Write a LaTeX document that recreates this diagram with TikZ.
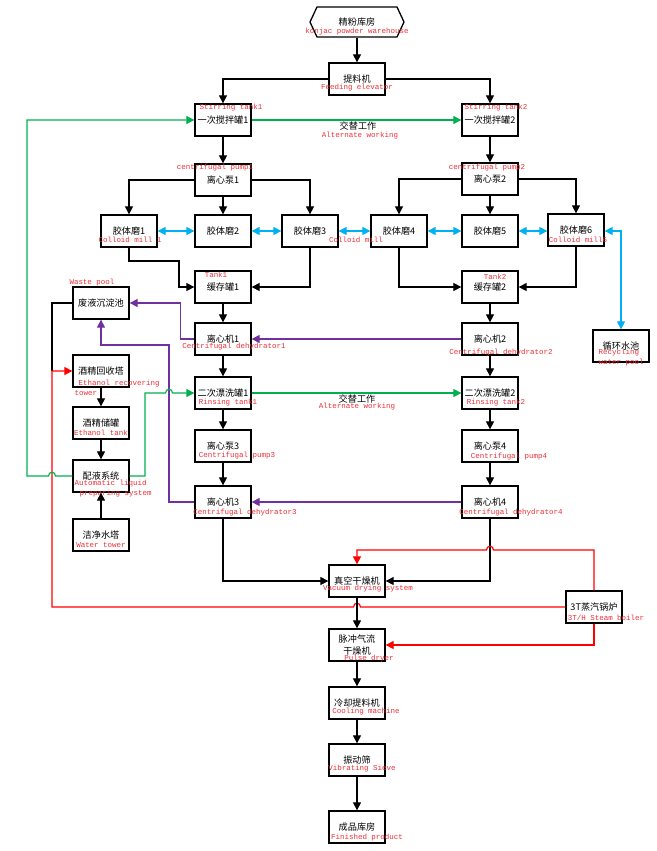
\documentclass[tikz,border=0pt]{standalone}
\usepackage{fontspec}
\setmainfont{Noto Sans CJK SC}
\newfontfamily\enfont{Liberation Mono}
\usetikzlibrary{arrows.meta,shapes.symbols}
\definecolor{flowgreen}{RGB}{0,176,80}
\definecolor{flowblue}{RGB}{0,176,240}
\definecolor{flowpurple}{RGB}{112,48,160}
\definecolor{flowred}{RGB}{255,0,0}
\definecolor{labred}{RGB}{238,45,55}

\begin{document}
\begin{tikzpicture}[x=0.3mm,y=-0.3mm,>={Triangle[length=2.4mm,width=2.4mm]},line width=0.9pt,
  box/.style={draw,line width=1.1pt,minimum width=16.8mm,minimum height=9.6mm,inner sep=1pt,
    font=\fontsize{7.8}{9.6}\selectfont,align=center},
  cn/.style={font=\fontsize{7.8}{9.6}\selectfont,inner sep=0pt},
  en/.style={text=labred,font=\enfont\fontsize{6.4}{8.6}\selectfont,inner sep=0pt},
  gline/.style={draw=flowgreen,line width=1pt},
  bline/.style={draw=flowblue,line width=1pt},
  pline/.style={draw=flowpurple,line width=1pt},
  rline/.style={draw=flowred,line width=1pt}]
\useasboundingbox (0,0) rectangle (657,851);

\node[draw,line width=1.1pt,signal,signal to=west and east,signal pointer angle=130,
  minimum width=28.2mm,minimum height=9mm,inner sep=0pt,font=\fontsize{7.8}{9.6}\selectfont] (store) at (357,22) {精粉库房};
\node[box] (elev) at (357,79) {提料机};
\node[box] (st1) at (223,120) {一次搅拌罐1};
\node[box] (st2) at (490,120) {一次搅拌罐2};
\node[box] (pump1) at (223,180) {离心泵1};
\node[box] (pump2) at (490,179) {离心泵2};
\node[box] (mill1) at (129,231) {胶体磨1};
\node[box] (mill2) at (223,231) {胶体磨2};
\node[box] (mill3) at (310,231) {胶体磨3};
\node[box] (mill4) at (399,231) {胶体磨4};
\node[box] (mill5) at (490,231) {胶体磨5};
\node[box] (mill6) at (576,230) {胶体磨6};
\node[box] (tank1) at (223,287) {缓存罐1};
\node[box] (tank2) at (490,287) {缓存罐2};
\node[box] (waste) at (101,303) {废液沉淀池};
\node[box] (cen1) at (223,339) {离心机1};
\node[box] (cen2) at (490,339) {离心机2};
\node[box] (pool) at (621,346) {循环水池};
\node[box] (ethrec) at (101,371) {酒精回收塔};
\node[box] (rin1) at (223,393) {二次漂洗罐1};
\node[box] (rin2) at (490,393) {二次漂洗罐2};
\node[box] (ethtank) at (101,423) {酒精储罐};
\node[box] (pump3) at (223,446) {离心泵3};
\node[box] (pump4) at (490,446) {离心泵4};
\node[box] (mix) at (101,476) {配液系统};
\node[box] (cen3) at (223,502) {离心机3};
\node[box] (cen4) at (490,502) {离心机4};
\node[box] (water) at (101,535) {洁净水塔};
\node[box] (vac) at (357,581) {真空干燥机};
\node[box] (boiler) at (594,607) {3T蒸汽锅炉};
\node[box] (pulse) at (357,645) {脉冲气流\\干燥机};
\node[box] (cool) at (357,703) {冷却提料机};
\node[box] (sieve) at (357,760) {振动筛};
\node[box] (prod) at (357,827) {成品库房};
\coordinate (redjoin) at (52,371);

\node[cn] (alt1) at (358,126) {交替工作};
\node[cn] (alt2) at (357,399) {交替工作};

\node[en] (storeen) at (357,32) {konjac powder warehouse};
\node[en] (elev-en) at (357,88) {Feeding elevator};
\node[en] (st1en) at (231,108) {Stirring tank1};
\node[en] (st2en) at (496,108) {Stirring tank2};
\node[en] (alt1en) at (360,136) {Alternate working};
\node[en] (pump1en) at (215,168) {centrifugal pump1};
\node[en] (pump2en) at (487,168) {centrifugal pump2};
\node[en] (mill1en) at (130,240) {Colloid mill 1};
\node[en] (mill3en) at (356,240) {Colloid mill};
\node[en] (mill6en) at (578,240) {Colloid mill6};
\node[en] (tank1en) at (216,275) {Tank1};
\node[en] (tank2en) at (495,277) {Tank2};
\node[en] (wasteen) at (92,283) {Waste pool};
\node[en] (cen1en) at (234,347) {Centrifugal dehydrator1};
\node[en] (cen2en) at (501,353) {Centrifugal dehydrator2};
\node[en,anchor=west,align=left] (poolen) at (598,358) {Recycling\\water pool};
\node[en,anchor=west,align=left] (ethrecen) at (74,388) {\hspace*{1.2mm}Ethanol recovering\\tower};
\node[en] (rin1en) at (228,403) {Rinsing tank1};
\node[en] (rin2en) at (496,403) {Rinsing tank2};
\node[en] (alt2en) at (357,407) {Alternate working};
\node[en] (ethtanken) at (101,433) {Ethanol tank};
\node[en] (pump3en) at (237,456) {Centrifugal pump3};
\node[en] (pump4en) at (509,457) {Centrifugal pump4};
\node[en,anchor=west,align=left] (mixen) at (74,489) {Automatic liquid\\\hspace*{1.5mm}preparing system};
\node[en] (cen3en) at (245,513) {Centrifugal dehydrator3};
\node[en] (cen4en) at (511,513) {Centrifugal dehydrator4};
\node[en] (wateren) at (101,545) {Water tower};
\node[en] (vacen) at (368,589) {Vacuum drying system};
\node[en] (boileren) at (606,618) {3T/H Steam boiler};
\node[en] (pulseen) at (369,659) {Pulse dryer};
\node[en] (coolen) at (366,712) {Cooling machine};
\node[en] (sieveen) at (362,769) {Vibrating Sieve};
\node[en] (proden) at (367,838) {Finished product};

\draw[->] (store.south) -- (elev.north);
\draw[->] (elev.west) -| (st1.north);
\draw[->] (elev.east) -| (st2.north);
\draw[gline,->] (st1.east) -- (st2.west);
\draw[->] (st1.south) -- (pump1.north);
\draw[->] (st2.south) -- (pump2.north);
\draw[->] (pump1.west) -| (mill1.north);
\draw[->] (pump1.south) -- (mill2.north);
\draw[->] (pump1.east) -| (mill3.north);
\draw[->] (pump2.west) -| (mill4.north);
\draw[->] (pump2.south) -- (mill5.north);
\draw[->] (pump2.east) -| (mill6.north);
\draw[bline,<->] (mill1.east) -- (mill2.west);
\draw[bline,<->] (mill2.east) -- (mill3.west);
\draw[bline,<->] (mill3.east) -- (mill4.west);
\draw[bline,<->] (mill4.east) -- (mill5.west);
\draw[bline,<->] (mill5.east) -- (mill5.east -| mill6.west);
\draw[bline,<->] (mill6.east |- mill5.east) -| (pool.north);
\draw[->] (mill1.south) |- (179,261) |- (tank1.west);
\draw[->] (mill3.south) |- (tank1.east);
\draw[->] (mill4.south) |- (tank2.west);
\draw[->] (mill6.south) |- (tank2.east);
\draw[->] (tank1.south) -- (cen1.north);
\draw[->] (tank2.south) -- (cen2.north);
\draw[pline,->] (cen2.west) -- (cen1.east);
\draw[pline,->] (cen1.west) -- ++(-14,0) |- (waste.east);
\draw[->] (cen1.south) -- (rin1.north);
\draw[->] (cen2.south) -- (rin2.north);
\draw[gline,->] (rin1.east) -- (rin2.west);
\draw[->] (rin1.south) -- (pump3.north);
\draw[->] (rin2.south) -- (pump4.north);
\draw[->] (pump3.south) -- (cen3.north);
\draw[->] (pump4.south) -- (cen4.north);
\draw[pline,->] (cen4.west) -- (cen3.east);
\draw[pline,->] (cen3.west) -| (169,345) -| (waste.south);
\draw (waste.west) -| (redjoin);
\draw[rline,->] (boiler.west) -- (360.5,607) .. controls (360.5,602) and (353.5,602) .. (353.5,607) -| (redjoin) -- (ethrec.west);
\draw[->] (ethrec.south) -- (ethtank.north);
\draw[->] (ethtank.south) -- (mix.north);
\draw[->] (water.north) -- (mix.south);
\draw[gline,->] (mix.west) -- (55.5,476) .. controls (55.5,471) and (48.5,471) .. (48.5,476) -- (27,476) |- (st1.west);
\draw[gline,->] (mix.east) -| (145,393) -- (165.5,393) .. controls (165.5,388) and (172.5,388) .. (172.5,393) -- (rin1.west);
\draw[->] (cen3.south) |- (vac.west);
\draw[->] (cen4.south) |- (vac.east);
\draw[rline,->] (boiler.north) |- (493.5,550) .. controls (493.5,545) and (486.5,545) .. (486.5,550) -| (vac.north);
\draw[rline,->] (boiler.south) |- (pulse.east);
\draw[->] (vac.south) -- (pulse.north);
\draw[->] (pulse.south) -- (cool.north);
\draw[->] (cool.south) -- (sieve.north);
\draw[->] (sieve.south) -- (prod.north);
\end{tikzpicture}
\end{document}
